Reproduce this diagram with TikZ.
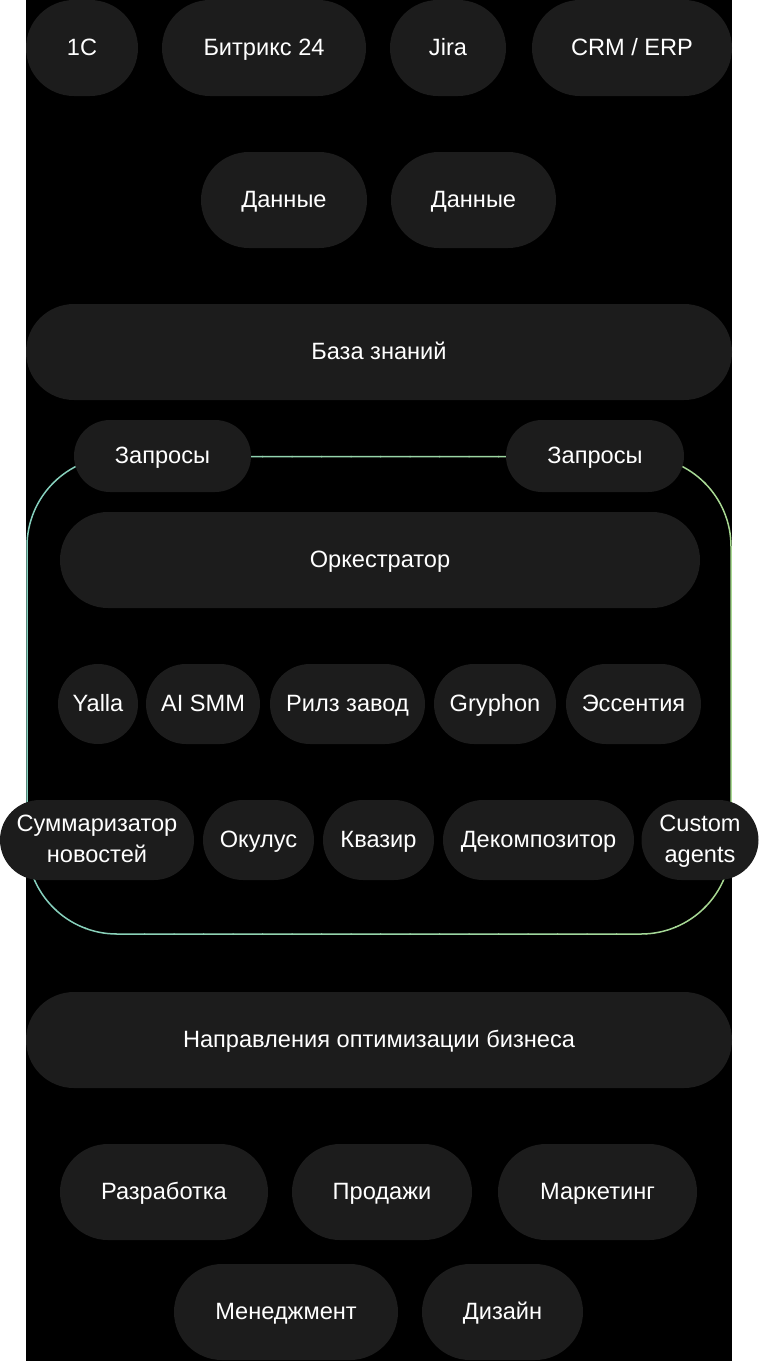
\documentclass[tikz,border=0pt]{standalone}
\usepackage{fontspec}
\setmainfont{Liberation Sans}
\usepackage{xcolor}
\definecolor{pillgray}{HTML}{1C1C1C}
\definecolor{framel}{RGB}{134,208,190}
\definecolor{framer}{RGB}{168,216,146}
\begin{document}
\begin{tikzpicture}[x=0.5pt, y=-0.5pt]
        \tikzset{pill/.style={fill=pillgray, text=white, inner sep=0pt,
            minimum height=48pt, rounded corners=24pt,
            text height=9pt, text depth=2pt,
            font=\fontsize{11.8}{15.6}\selectfont, align=center},
          mid/.style={minimum height=40pt, rounded corners=20pt},
          low/.style={minimum height=36pt, rounded corners=18pt},
          twoline/.style={text height=24.6pt}}
        \useasboundingbox (0,0) rectangle (759,1361);
        \fill[white] (0,0) rectangle (759,1361);
        \fill[black] (26,0) rectangle (732,1361);
        % frame round the agents
        \foreach \i in {0,...,23} {
            \pgfmathtruncatemacro\p{100*\i/23}
            \begin{scope}
                \clip (26+\i*29.5, 440) rectangle (26+\i*29.5+30.5, 950);
                \draw[line width=0.75pt, draw=framer!\p!framel, rounded corners=45pt]
                    (27,456.5) rectangle (731,934);
            \end{scope}
        }
        \node[pill, minimum width=56pt] (onec)   at (82,48)  {1C};
        \node[pill, minimum width=102pt] (bitrix) at (264,48) {Битрикс 24};
        \node[pill, minimum width=58pt] (jira)   at (448,48) {Jira};
        \node[pill, minimum width=100pt] (crm)   at (632,48) {CRM / ERP};
        \node[pill, minimum width=83pt] (dataa)  at (284,200) {Данные};
        \node[pill, minimum width=82.5pt] (datab) at (473.5,200) {Данные};
        \node[pill, minimum width=353pt] (kb)    at (379,352) {База знаний};
        \node[pill, low, minimum width=88.5pt] (reqa) at (162.5,456) {Запросы};
        \node[pill, low, minimum width=89pt] (reqb)   at (595,456) {Запросы};
        \node[pill, minimum width=320pt] (orch)  at (380,560) {Оркестратор};
        \node[pill, mid, minimum width=40pt] (yalla)  at (98,704)    {Yalla};
        \node[pill, mid, minimum width=57pt] (smm)    at (203,704)   {AI SMM};
        \node[pill, mid, minimum width=77.5pt] (reels) at (347.5,704) {Рилз завод};
        \node[pill, mid, minimum width=61pt] (gryph)  at (495,704)   {Gryphon};
        \node[pill, mid, minimum width=67.5pt] (ess)  at (633.5,704) {Эссентия};
        \node[pill, mid, twoline, minimum width=97pt] (summ) at (97,840) {Суммаризатор\\новостей};
        \node[pill, mid, minimum width=55.5pt] (okul) at (258.5,840) {Окулус};
        \node[pill, mid, minimum width=55.5pt] (kvaz) at (378.5,840) {Квазир};
        \node[pill, mid, minimum width=95.5pt] (decomp) at (538.5,840) {Декомпозитор};
        \node[pill, mid, twoline, minimum width=58.5pt] (custom) at (700,840) {Custom\\agents};
        \node[pill, minimum width=353pt] (dirs)  at (379,1040) {Направления оптимизации бизнеса};
        \node[pill, minimum width=104pt] (dev)   at (164,1192) {Разработка};
        \node[pill, minimum width=90pt] (sales)  at (382,1192) {Продажи};
        \node[pill, minimum width=99.5pt] (mkt)  at (597.5,1192) {Маркетинг};
        \node[pill, minimum width=112pt] (mgmt)  at (286,1312) {Менеджмент};
        \node[pill, minimum width=80.5pt] (design) at (502.5,1312) {Дизайн};
\end{tikzpicture}
\end{document}
